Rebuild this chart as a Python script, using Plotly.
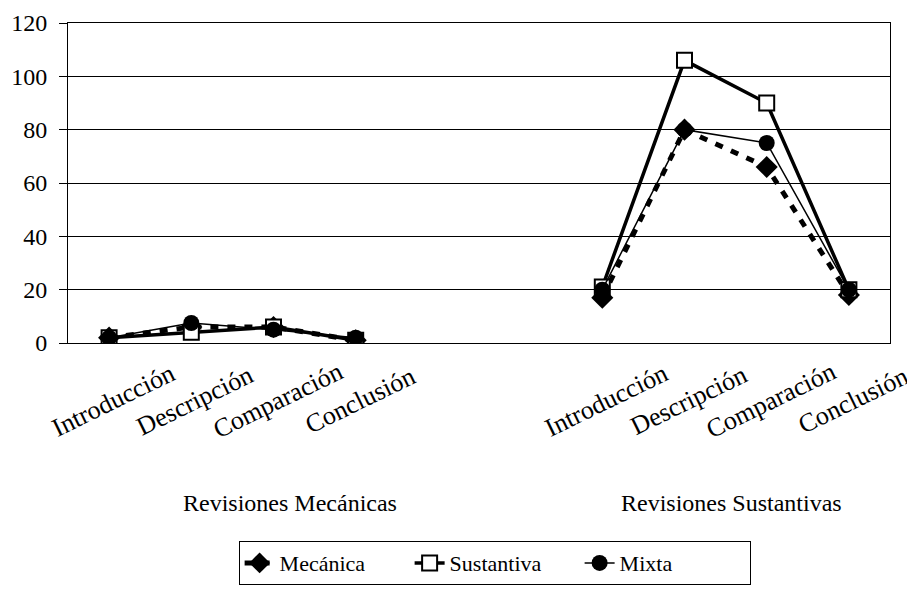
import plotly.graph_objects as go

# ---- data ----
categories = ["Introducción", "Descripción", "Comparación", "Conclusión"]
groups = ["Revisiones Mecánicas", "Revisiones Sustantivas"]
series_names = ["Mecánica", "Sustantiva", "Mixta"]

mecanica_g1 = [2, 6, 6, 1]
mecanica_g2 = [17, 80, 66, 18]
sustantiva_g1 = [2, 4, 6, 1]
sustantiva_g2 = [21, 106, 90, 20]
mixta_g1 = [2, 7.5, 5, 2]
mixta_g2 = [20, 80, 75, 20]

y_ticks = [0, 20, 40, 60, 80, 100, 120]

# ---- layout helpers ----
n = len(categories)
gap = 2
x_g1 = list(range(n))
x_g2 = [n + gap + i for i in range(n)]
x_all = x_g1 + [n] + x_g2
n_slots = 2 * n + gap

def combine(a, b):
    return list(a) + [None] + list(b)

FONT = "Liberation Serif"

fig = go.Figure()
fig.add_trace(go.Scatter(
    x=x_all, y=combine(mecanica_g1, mecanica_g2), name=series_names[0],
    mode="lines+markers", connectgaps=False,
    line=dict(color="black", width=5, dash="8px,9px"),
    marker=dict(symbol="diamond", size=17, color="black"),
))
fig.add_trace(go.Scatter(
    x=x_all, y=combine(sustantiva_g1, sustantiva_g2), name=series_names[1],
    mode="lines+markers", connectgaps=False,
    line=dict(color="black", width=3.5),
    marker=dict(symbol="square", size=15, color="white",
                line=dict(color="black", width=2)),
))
fig.add_trace(go.Scatter(
    x=x_all, y=combine(mixta_g1, mixta_g2), name=series_names[2],
    mode="lines+markers", connectgaps=False,
    line=dict(color="black", width=1.5),
    marker=dict(symbol="circle", size=16, color="black"),
))

annotations = []
for xs in (x_g1, x_g2):
    for xi, lab in zip(xs, categories):
        annotations.append(dict(
            x=xi + 0.05, y=-0.18, xref="x", yref="paper", text=lab,
            textangle=-26, showarrow=False, xanchor="center", yanchor="middle",
            font=dict(family=FONT, size=26, color="black"),
        ))
group_centers = [2.2, 7.57]
for gx, g in zip(group_centers, groups):
    annotations.append(dict(
        x=gx, y=-0.5, xref="x", yref="paper", text=g, showarrow=False,
        xanchor="center", yanchor="middle",
        font=dict(family=FONT, size=24, color="black"),
    ))

# the page body adds an 8px offset, so the figure is 8px smaller and shifted
fig.update_layout(
    width=907, height=581,
    margin=dict(l=60, r=25, t=15, b=246, autoexpand=False),
    paper_bgcolor="white", plot_bgcolor="white",
    font=dict(family=FONT, color="black"),
    xaxis=dict(range=[-0.5, n_slots - 0.5], showticklabels=False, showgrid=False,
               zeroline=False, showline=True, linecolor="black", linewidth=1,
               mirror=True, ticks="", automargin=False),
    yaxis=dict(range=[0, 120], tickvals=y_ticks, showgrid=True, gridcolor="black",
               gridwidth=1, zeroline=False, showline=True, linecolor="black",
               linewidth=1, mirror=True, ticks="outside", ticklen=8,
               tickcolor="black", ticklabelstandoff=7, automargin=False,
               tickfont=dict(family=FONT, size=24, color="black")),
    legend=dict(orientation="h", x=0.519, xanchor="center", y=-0.619, yanchor="top",
                bordercolor="black", borderwidth=1, bgcolor="white",
                entrywidth=125, entrywidthmode="pixels",
                font=dict(family=FONT, size=22, color="black"), traceorder="normal"),
    annotations=annotations,
    showlegend=True,
)

fig.write_html("out.html")
